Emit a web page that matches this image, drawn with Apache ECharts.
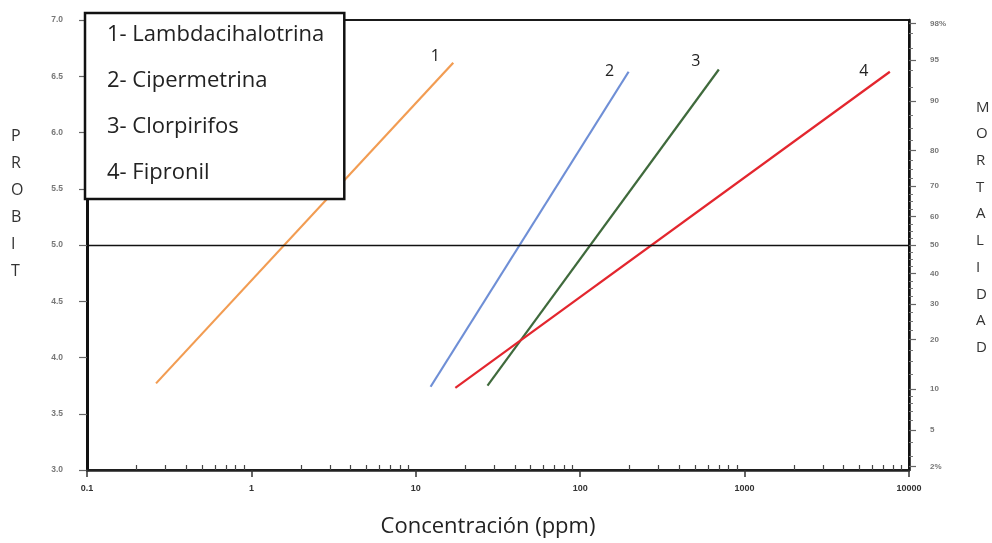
<!DOCTYPE html>
<html>
<head>
<meta charset="utf-8">
<script src="https://cdn.jsdelivr.net/npm/echarts@6/dist/echarts.min.js"></script>
<style>
  html, body { margin: 0; padding: 0; background: #fff; }
  #chart { width: 992px; height: 543px; }
</style>
</head>
<body>
<div id="chart"></div>
<script>
// insecticidas (leyenda) y etiqueta numerica de cada recta
const insecticides = ['Lambdacihalotrina', 'Cipermetrina', 'Clorpirifos', 'Fipronil']
const lineNums = ['1', '2', '3', '4']

// extremos de cada recta: concentracion (ppm) y probit
const lambdaConc = [0.263, 16.9]
const lambdaProbit = [3.77, 6.62]
const cipConc = [12.3, 197]
const cipProbit = [3.74, 6.54]
const cloConc = [27.3, 697]
const cloProbit = [3.75, 6.56]
const fipConc = [17.4, 7650]
const fipProbit = [3.73, 6.54]

// eje derecho: mortalidad (%)
const mortPct = [98, 95, 90, 80, 70, 60, 50, 40, 30, 20, 10, 5, 2]
const mortLabels = ['98%', '95', '90', '80', '70', '60', '50', '40', '30', '20', '10', '5', '2%']
const mortMinorPct = [3, 4, 6, 7, 8, 9, 12.5, 15, 17.5, 22.5, 25, 27.5, 32.5, 35, 37.5, 42.5, 45, 47.5,
  52.5, 55, 57.5, 62.5, 65, 67.5, 72.5, 75, 77.5, 82.5, 85, 87.5, 92, 94, 96, 97]

// eje x: marcas secundarias (2..9 de cada decada)
const xMinorTicks = [0.2, 0.3, 0.4, 0.5, 0.6, 0.7, 0.8, 0.9, 2, 3, 4, 5, 6, 7, 8, 9,
  20, 30, 40, 50, 60, 70, 80, 90, 200, 300, 400, 500, 600, 700, 800, 900,
  2000, 3000, 4000, 5000, 6000, 7000, 8000, 9000]

const colors = ['#f29c52', '#6f8fd6', '#3f6a3c', '#e3262e']
const labelOffsets = [[-18, -6], [-19, 0], [-23, -8], [-26, 0]]

// probit = 5 + z(p)
function probit (pct) {
  const p = pct / 100
  const q = p < 0.5 ? p : 1 - p
  const t = Math.sqrt(-2 * Math.log(q))
  const z = t - (2.515517 + 0.802853 * t + 0.010328 * t * t) /
    (1 + 1.432788 * t + 0.189269 * t * t + 0.001308 * t * t * t)
  const v = 5 + (p < 0.5 ? -z : z)
  return Math.min(Math.max(v, 3.03), 6.97)
}
const mortPos = mortPct.map(probit)
const mortMinorPos = mortMinorPct.map(probit)

const lines = [
  [lambdaConc, lambdaProbit],
  [cipConc, cipProbit],
  [cloConc, cloProbit],
  [fipConc, fipProbit]
]

const series = lines.map((ln, i) => {
  const data = ln[0].map((c, j) => [c, ln[1][j]])
  const last = data.length - 1
  return {
    name: insecticides[i],
    type: 'line',
    xAxisIndex: 0,
    yAxisIndex: 0,
    symbol: 'circle',
    symbolSize: 0,
    showSymbol: true,
    lineStyle: { color: colors[i], width: 2.2 },
    itemStyle: { color: colors[i] },
    data: data.map((d, j) => j === last ? {
      value: d,
      label: {
        show: true,
        position: 'inside',
        offset: labelOffsets[i],
        formatter: lineNums[i],
        fontSize: 16,
        fontFamily: 'Open Sans',
        color: '#222'
      }
    } : d)
  }
})
series[0].markLine = {
  silent: true,
  symbol: 'none',
  label: { show: false },
  lineStyle: { color: '#111', width: 1.3, type: 'solid' },
  data: [{ yAxis: 5 }]
}

const chart = echarts.init(document.getElementById('chart'))
chart.setOption({
  animation: false,
  backgroundColor: '#fff',
  grid: {
    left: 87,
    right: 83,
    top: 20,
    bottom: 71,
    show: true,
    borderColor: '#1a1a1a',
    borderWidth: 2
  },
  legend: {
    orient: 'vertical',
    left: 85,
    top: 13,
    data: insecticides,
    icon: 'rect',
    itemWidth: 0,
    itemHeight: 22,
    itemGap: 24,
    itemStyle: { opacity: 0 },
    lineStyle: { opacity: 0 },
    padding: [11, 20, 15, 17],
    borderColor: '#111',
    borderWidth: 2.5,
    backgroundColor: '#fff',
    selectedMode: false,
    formatter: name => (insecticides.indexOf(name) + 1) + '- ' + name,
    textStyle: { fontSize: 22, color: '#222', fontFamily: 'Open Sans' }
  },
  xAxis: [
    {
      type: 'log',
      logBase: 10,
      min: 0.1,
      max: 10000,
      position: 'bottom',
      name: 'Concentración (ppm)',
      nameLocation: 'middle',
      nameGap: 46,
      nameTextStyle: { fontSize: 22, color: '#222', fontFamily: 'Open Sans', padding: [0, 20, 0, 0] },
      axisLine: { onZero: false, lineStyle: { color: '#222', width: 2.5 } },
      axisTick: { show: true, length: 7, lineStyle: { color: '#333', width: 1.5 } },
      axisLabel: {
        fontSize: 9,
        fontWeight: 'bold',
        color: '#333',
        fontFamily: 'Liberation Sans',
        margin: 14,
        formatter: v => String(+Number(v).toPrecision(6))
      },
      splitLine: { show: false }
    },
    {
      type: 'value',
      min: -1,
      max: 4,
      position: 'bottom',
      axisLine: { show: false, onZero: false },
      axisLabel: { show: false },
      axisTick: {
        show: true,
        inside: true,
        length: 5,
        customValues: xMinorTicks.map(v => Math.log10(v)),
        lineStyle: { color: '#444', width: 1.2 }
      },
      splitLine: { show: false }
    }
  ],
  yAxis: [
    {
      type: 'value',
      min: 3,
      max: 7,
      interval: 0.5,
      position: 'left',
      axisLine: { show: true, onZero: false, lineStyle: { color: '#111', width: 3 } },
      axisTick: { show: true, length: 8, lineStyle: { color: '#666', width: 1.2 } },
      axisLabel: {
        fontSize: 8.5,
        fontWeight: 'bold',
        color: '#777',
        fontFamily: 'Liberation Sans',
        margin: 24,
        formatter: v => v.toFixed(1)
      },
      splitLine: { show: false }
    },
    {
      type: 'value',
      min: 3,
      max: 7,
      position: 'right',
      axisLine: { show: true, onZero: false, lineStyle: { color: '#111', width: 2.5 } },
      axisTick: {
        show: true,
        length: 7,
        customValues: mortPos,
        lineStyle: { color: '#666', width: 1.2 }
      },
      axisLabel: {
        customValues: mortPos,
        fontSize: 8,
        fontWeight: 'bold',
        color: '#777',
        fontFamily: 'Liberation Sans',
        margin: 21,
        formatter: v => {
          const i = mortPos.findIndex(p => Math.abs(p - v) < 1e-6)
          return i >= 0 ? mortLabels[i] : ''
        }
      },
      splitLine: { show: false }
    },
    {
      type: 'value',
      min: 3,
      max: 7,
      position: 'right',
      axisLine: { show: false, onZero: false },
      axisLabel: { show: false },
      axisTick: {
        show: true,
        length: 4,
        customValues: mortMinorPos,
        lineStyle: { color: '#777', width: 1 }
      },
      splitLine: { show: false }
    }
  ],
  graphic: [
    {
      type: 'text',
      left: 11,
      top: 123,
      style: {
        text: 'P\nR\nO\nB\nI\nT',
        fontSize: 16,
        lineHeight: 27,
        fontFamily: 'Open Sans',
        fill: '#333',
        align: 'center'
      }
    },
    {
      type: 'text',
      left: 976,
      top: 94,
      style: {
        text: 'M\nO\nR\nT\nA\nL\nI\nD\nA\nD',
        fontSize: 15,
        lineHeight: 26.7,
        fontFamily: 'Open Sans',
        fill: '#333',
        align: 'center'
      }
    }
  ],
  series: series
})
</script>
</body>
</html>
